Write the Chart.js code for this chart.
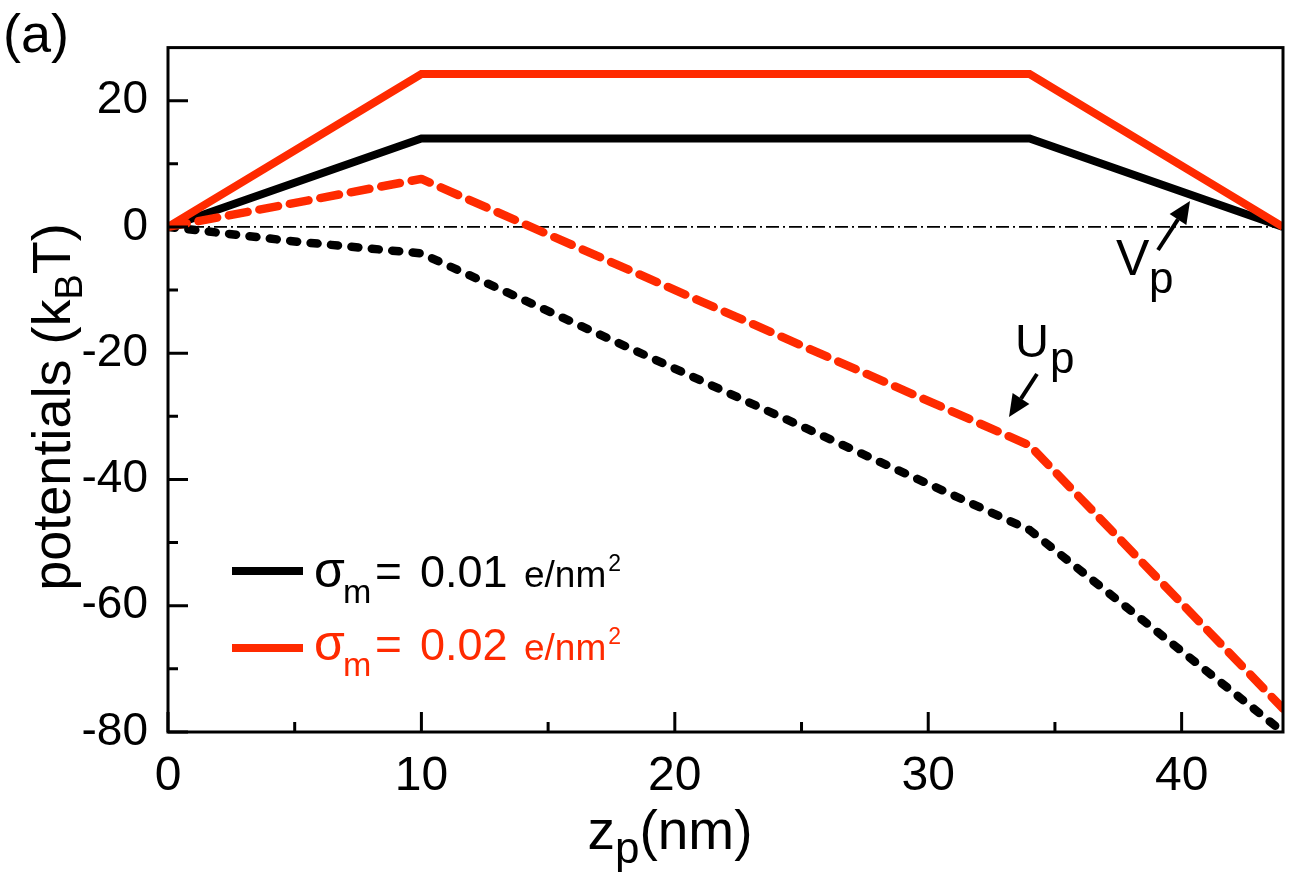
<!DOCTYPE html>
<html>
<head>
<meta charset="utf-8">
<script src="https://cdn.jsdelivr.net/npm/chart.js@4.4.1/dist/chart.umd.min.js"></script>
<style>
html,body{margin:0;padding:0;background:#fff;}
#wrap{width:1303px;height:882px;position:relative;}
</style>
</head>
<body>
<div id="wrap"><canvas id="c"></canvas></div>
<script>
// ---- data ----
const zSolid = [0, 10, 34, 44];
const vpLow = [0, 14, 14, 0];          // sigma_m = 0.01, V_p
const vpHigh = [0, 24.2, 24.2, 0];     // sigma_m = 0.02, V_p
const zUpLow = [0, 5, 10, 34, 44];
const upLow = [0, -2.3, -4.2, -48, -80];   // sigma_m = 0.01, U_p
const zUpHigh = [0, 10, 34, 44];
const upHigh = [0, 7.6, -34.6, -76.3];     // sigma_m = 0.02, U_p
const zeroZ = [0, 44];
const zeroV = [0, 0];
const xTickVals = [0, 10, 20, 30, 40];
const xMinorVals = [5, 15, 25, 35];
const yTickVals = [-80, -60, -40, -20, 0, 20];
const yMinorVals = [-70, -50, -30, -10, 10];
const legendVals = ['0.01', '0.02'];

const BLACK = '#000000';
const RED = '#ff2a00';
const FONT = '"Liberation Sans", Arial, Helvetica, sans-serif';

const pts = (xs, ys) => xs.map((x, i) => ({x: x, y: ys[i]}));

function drawRich(ctx, x, y, parts, color) {
  let cx = x;
  ctx.fillStyle = color;
  ctx.textBaseline = 'alphabetic';
  ctx.textAlign = 'left';
  for (const p of parts) {
    ctx.font = p.size + 'px ' + FONT;
    if (p.x !== undefined) cx = p.x;
    cx += (p.gap || 0);
    ctx.fillText(p.t, cx, y + (p.dy || 0));
    cx += ctx.measureText(p.t).width;
  }
}
function richWidth(ctx, parts) {
  let w = 0;
  for (const p of parts) { ctx.font = p.size + 'px ' + FONT; w += ctx.measureText(p.t).width + (p.gap || 0); }
  return w;
}
function arrow(ctx, x1, y1, x2, y2) {
  const ang = Math.atan2(y2 - y1, x2 - x1);
  const hl = 22, hw = 10;
  const bx = x2 - hl * Math.cos(ang), by = y2 - hl * Math.sin(ang);
  ctx.strokeStyle = BLACK; ctx.fillStyle = BLACK; ctx.lineWidth = 4; ctx.lineCap = 'butt';
  ctx.beginPath(); ctx.moveTo(x1, y1); ctx.lineTo(bx, by); ctx.stroke();
  ctx.beginPath();
  ctx.moveTo(x2, y2);
  ctx.lineTo(bx + hw * Math.sin(ang), by - hw * Math.cos(ang));
  ctx.lineTo(bx - hw * Math.sin(ang), by + hw * Math.cos(ang));
  ctx.closePath(); ctx.fill();
}

const decor = {
  id: 'decor',
  afterDatasetsDraw(chart) {
    const ctx = chart.ctx;
    const a = chart.chartArea;
    const xs = chart.scales.x, ys = chart.scales.y;
    ctx.save();
    // frame
    ctx.strokeStyle = BLACK; ctx.lineWidth = 3;
    ctx.strokeRect(a.left, a.top, a.right - a.left, a.bottom - a.top);
    // inward ticks
    ctx.lineWidth = 3; ctx.lineCap = 'butt';
    ctx.beginPath();
    xTickVals.forEach(v => { const px = xs.getPixelForValue(v); ctx.moveTo(px, a.bottom); ctx.lineTo(px, a.bottom - 20); });
    xMinorVals.forEach(v => { const px = xs.getPixelForValue(v); ctx.moveTo(px, a.bottom); ctx.lineTo(px, a.bottom - 10); });
    yTickVals.forEach(v => { const py = ys.getPixelForValue(v); ctx.moveTo(a.left, py); ctx.lineTo(a.left + 20, py); });
    yMinorVals.forEach(v => { const py = ys.getPixelForValue(v); ctx.moveTo(a.left, py); ctx.lineTo(a.left + 10, py); });
    ctx.stroke();

    // panel label
    drawRich(ctx, 3, 52, [{t: '(a)', size: 54}], BLACK);

    // y title (rotated)
    const yParts = [{t: 'potentials (k', size: 54}, {t: 'B', size: 38, dy: 12}, {t: 'T)', size: 54}];
    const yw = richWidth(ctx, yParts);
    ctx.save();
    ctx.translate(70, 407);
    ctx.rotate(-Math.PI / 2);
    drawRich(ctx, -yw / 2, 0, yParts, BLACK);
    ctx.restore();

    // x title
    const xParts = [{t: 'z', size: 55}, {t: 'p', size: 44, dy: 14}, {t: '(nm)', size: 55}];
    const xw = richWidth(ctx, xParts);
    drawRich(ctx, 670 - xw / 2, 849, xParts, BLACK);

    // legend
    const ds = chart.data.datasets;
    const rows = [{ds: ds[1], y: 571, base: 587, val: legendVals[0]}, {ds: ds[2], y: 648, base: 660, val: legendVals[1]}];
    rows.forEach(r => {
      ctx.strokeStyle = r.ds.borderColor; ctx.lineWidth = 8; ctx.lineCap = 'butt';
      ctx.beginPath(); ctx.moveTo(232, r.y); ctx.lineTo(303, r.y); ctx.stroke();
      drawRich(ctx, 315, r.base, [
        {t: 'σ', size: 50, x: 314},
        {t: 'm', size: 34, dy: 16, x: 343},
        {t: '=', size: 46, x: 375},
        {t: r.val, size: 45, x: 420},
        {t: 'e/nm', size: 37, x: 524},
        {t: '2', size: 23, dy: -16, gap: 2}
      ], r.ds.borderColor);
    });

    // annotations
    drawRich(ctx, 1116, 275, [{t: 'V', size: 50}, {t: 'p', size: 44, x: 1149, dy: 18}], BLACK);
    arrow(ctx, 1158, 250, 1190, 201);
    drawRich(ctx, 1015, 357, [{t: 'U', size: 47}, {t: 'p', size: 44, x: 1050, dy: 16}], BLACK);
    arrow(ctx, 1037, 374, 1009, 417);
    ctx.restore();
  }
};

new Chart(document.getElementById('c'), {
  type: 'line',
  data: {
    datasets: [
      {data: pts(zeroZ, zeroV), borderColor: BLACK, borderWidth: 1.8, borderDash: [13, 4, 2, 4], pointRadius: 0, order: 5},
      {data: pts(zSolid, vpLow), borderColor: BLACK, borderWidth: 8, pointRadius: 0, borderJoinStyle: 'miter', order: 4},
      {data: pts(zSolid, vpHigh), borderColor: RED, borderWidth: 8, pointRadius: 0, borderJoinStyle: 'miter', order: 3},
      {data: pts(zUpLow, upLow), borderColor: BLACK, borderWidth: 8.5, borderDash: [7, 13.5], borderCapStyle: 'round', borderJoinStyle: 'round', pointRadius: 0, order: 2},
      {data: pts(zUpHigh, upHigh), borderColor: RED, borderWidth: 8.5, borderDash: [19, 12], borderCapStyle: 'round', borderJoinStyle: 'round', pointRadius: 0, order: 1}
    ]
  },
  options: {
    responsive: true,
    maintainAspectRatio: false,
    animation: false,
    layout: {padding: {left: 0, top: 45, right: 20, bottom: 0}},
    plugins: {legend: {display: false}, tooltip: {enabled: false}},
    elements: {line: {tension: 0}},
    scales: {
      x: {
        type: 'linear', min: 0, max: 44,
        afterBuildTicks: s => { s.ticks = xTickVals.map(v => ({value: v})); },
        afterFit: s => { s.height = 150; },
        grid: {display: false, drawTicks: false},
        border: {display: false},
        ticks: {font: {family: FONT, size: 48}, color: BLACK, padding: 16, maxRotation: 0}
      },
      y: {
        type: 'linear', min: -80, max: 28.4,
        afterBuildTicks: s => { s.ticks = yTickVals.map(v => ({value: v})); },
        afterFit: s => { s.width = 168; },
        grid: {display: false, drawTicks: false},
        border: {display: false},
        ticks: {font: {family: FONT, size: 46}, color: BLACK, padding: 20}
      }
    }
  },
  plugins: [decor]
});
</script>
</body>
</html>
